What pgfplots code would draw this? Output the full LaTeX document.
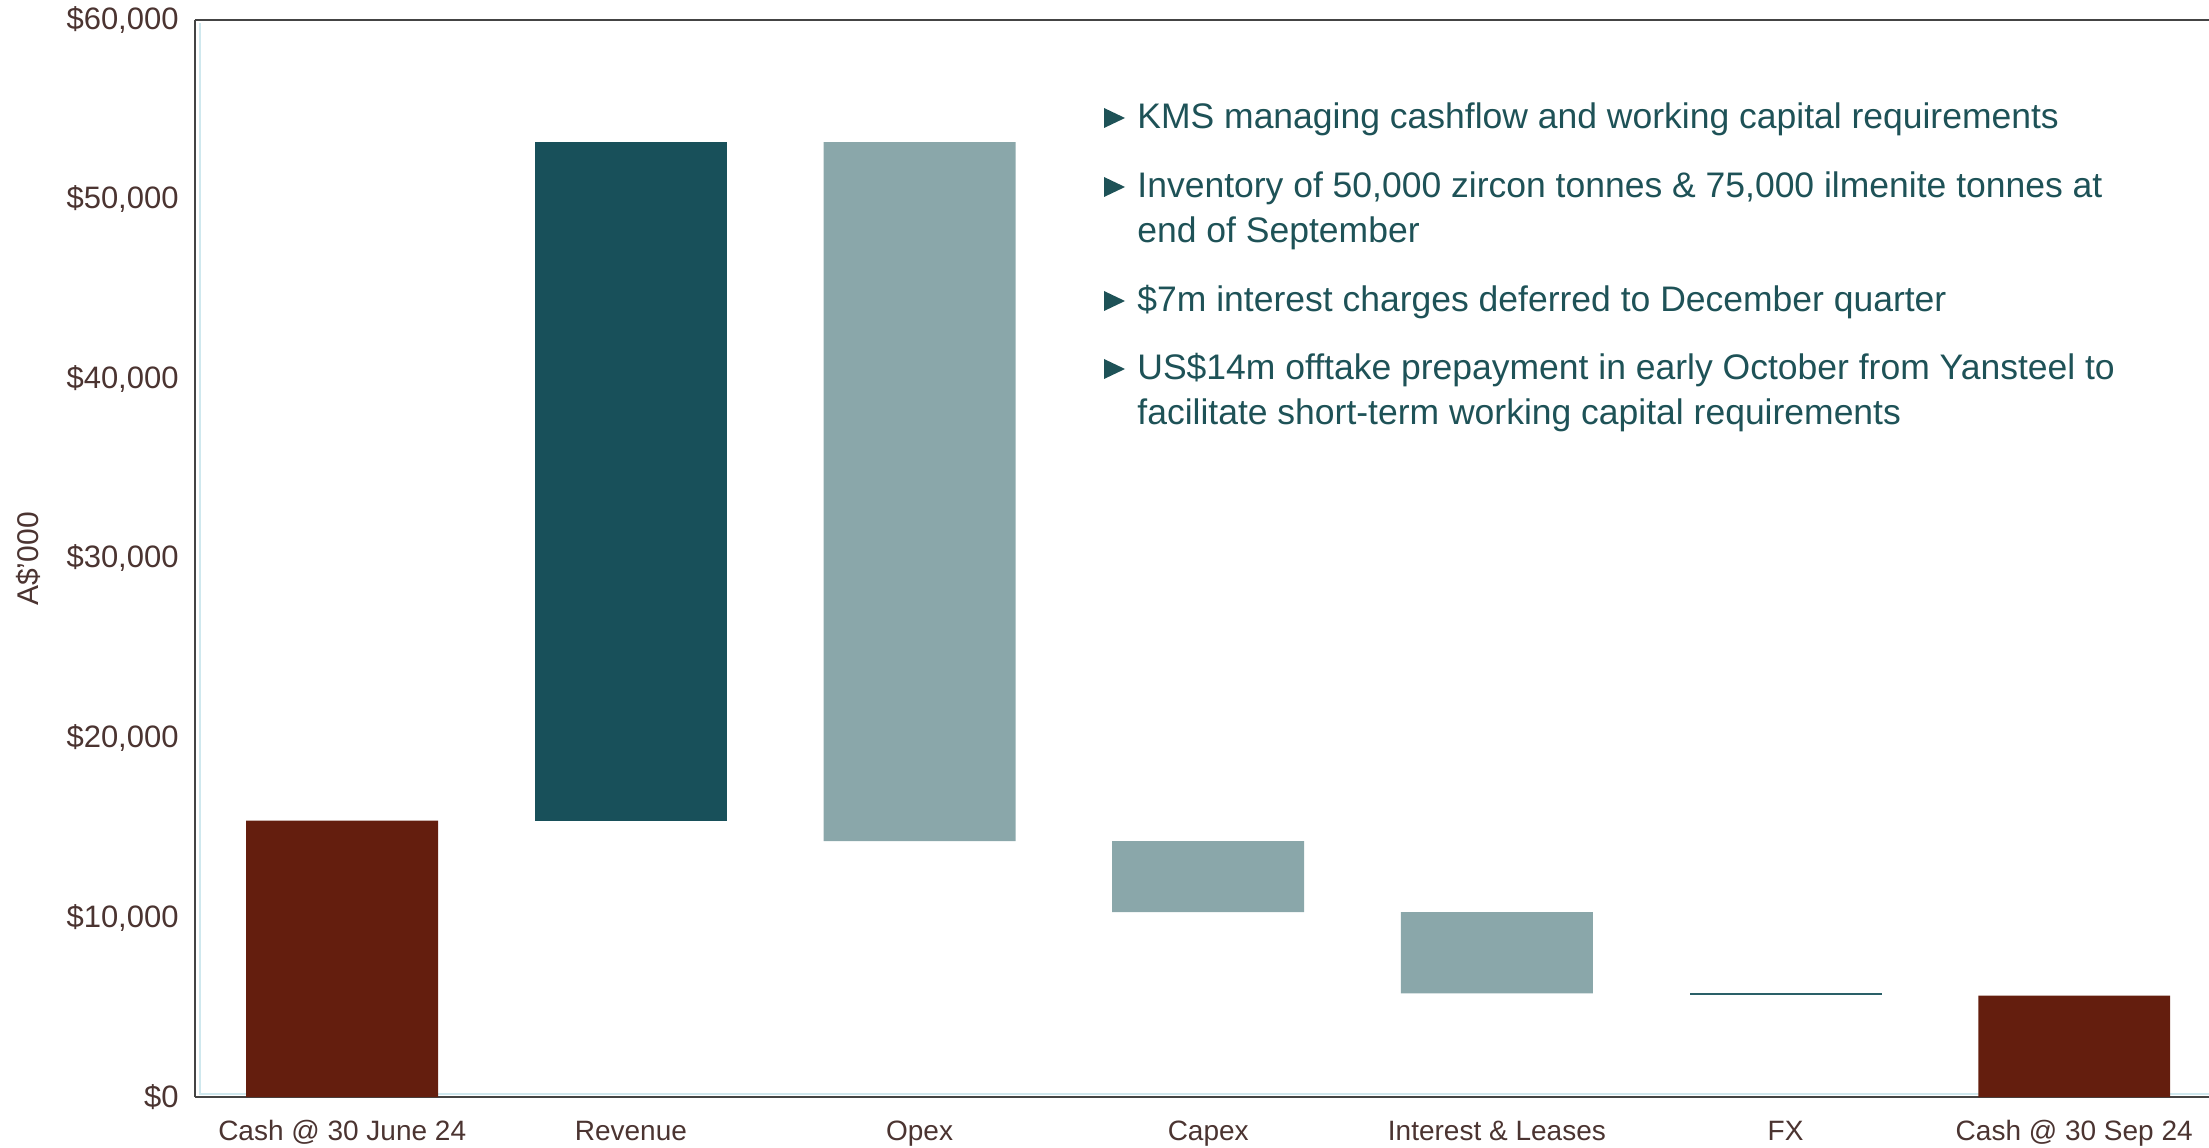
\documentclass[border=0pt]{standalone}
\usepackage{fontspec}
\setmainfont{Liberation Sans}
\usepackage{pgfplots}
\usepackage{pgfplotstable}
\pgfplotsset{compat=1.18}

\definecolor{cashred}{HTML}{641E0E}
\definecolor{revteal}{HTML}{18505A}
\definecolor{lightteal}{HTML}{8AA7AA}
\definecolor{fxteal}{HTML}{2A6068}
\definecolor{bullettxt}{HTML}{1E5257}
\definecolor{ticktxt}{HTML}{4B3431}
\definecolor{framegray}{HTML}{444444}
\definecolor{innerblue}{HTML}{CFE8EE}

% waterfall: invisible base + visible segment, A$'000
\pgfplotstableread{
x base  cash  rev   dec   fx
0 0     15400 0     0     0
1 15400 0     37800 0     0
2 14250 0     0     38950 0
3 10300 0     0     3950  0
4 5780  0     0     4520  0
5 5680  0     0     0     100
6 0     5650  0     0     0
}\wf

\begin{document}
\begin{tikzpicture}
\begin{axis}[
  at={(0pt,0pt)}, anchor=south west,
  scale only axis, width=1007pt, height=538.5pt,
  xmin=-0.51, xmax=6.467, ymin=0, ymax=60000,
  ybar stacked, bar width=0.665,
  axis x line=box, axis y line*=left,
  axis line style={framegray, line width=0.9pt},
  major tick length=0pt,
  xtick={0,...,6},
  xticklabels={Cash @ 30 June 24, Revenue, Opex, Capex, Interest \& Leases, FX, Cash @ 30 Sep 24},
  xticklabel style={anchor=base, inner sep=0pt, yshift=-21.75pt, text=ticktxt, font=\fontsize{14}{16}\selectfont},
  ytick={0,10000,...,60000},
  yticklabels={{\$0},{\$10,000},{\$20,000},{\$30,000},{\$40,000},{\$50,000},{\$60,000}},
  yticklabel style={anchor=east, inner sep=0pt, xshift=-8pt, text=ticktxt, font=\fontsize{15.5}{18}\selectfont},
  scaled y ticks=false,
  clip=false,
]
\addplot[draw=none, fill=none] table[x=x, y=base] {\wf};
\addplot[draw=none, fill=cashred] table[x=x, y=cash] {\wf};
\addplot[draw=none, fill=revteal] table[x=x, y=rev] {\wf};
\addplot[draw=none, fill=lightteal] table[x=x, y=dec] {\wf};
\addplot[draw=none, fill=fxteal] table[x=x, y=fx] {\wf};
\draw[innerblue, line width=1.3pt]
  ([xshift=2.5pt, yshift=-1.5pt]rel axis cs:0,1) -- ([xshift=2.5pt, yshift=1.6pt]rel axis cs:0,0)
  -- ([yshift=1.6pt]rel axis cs:1,0);
\end{axis}

\node[rotate=90, text=ticktxt, font=\fontsize{15}{17}\selectfont] at (-83.5pt,269pt) {A\$’000};

% commentary
\begin{scope}[every node/.style={anchor=base west, inner sep=0pt, text=bullettxt, font=\fontsize{17.75}{20}\selectfont}]
\node at (471pt,484pt) {KMS managing cashflow and working capital requirements};
\node at (471pt,449.5pt) {Inventory of 50,000 zircon tonnes \& 75,000 ilmenite tonnes at};
\node at (471pt,427pt) {end of September};
\node at (471pt,392.5pt) {\$7m interest charges deferred to December quarter};
\node at (471pt,358.5pt) {US\$14m offtake prepayment in early October from Yansteel to};
\node at (471pt,336pt) {facilitate short-term working capital requirements};
\end{scope}
\foreach \yc in {489.5,455,398,364}{
  \fill[bullettxt] (454.5pt,\yc pt+5pt) -- (465pt,\yc pt) -- (454.5pt,\yc pt-5pt) -- cycle;
}

\pgfresetboundingbox
\path (-97.5pt,-25pt) rectangle (1007pt,548.5pt);
\end{tikzpicture}
\end{document}
